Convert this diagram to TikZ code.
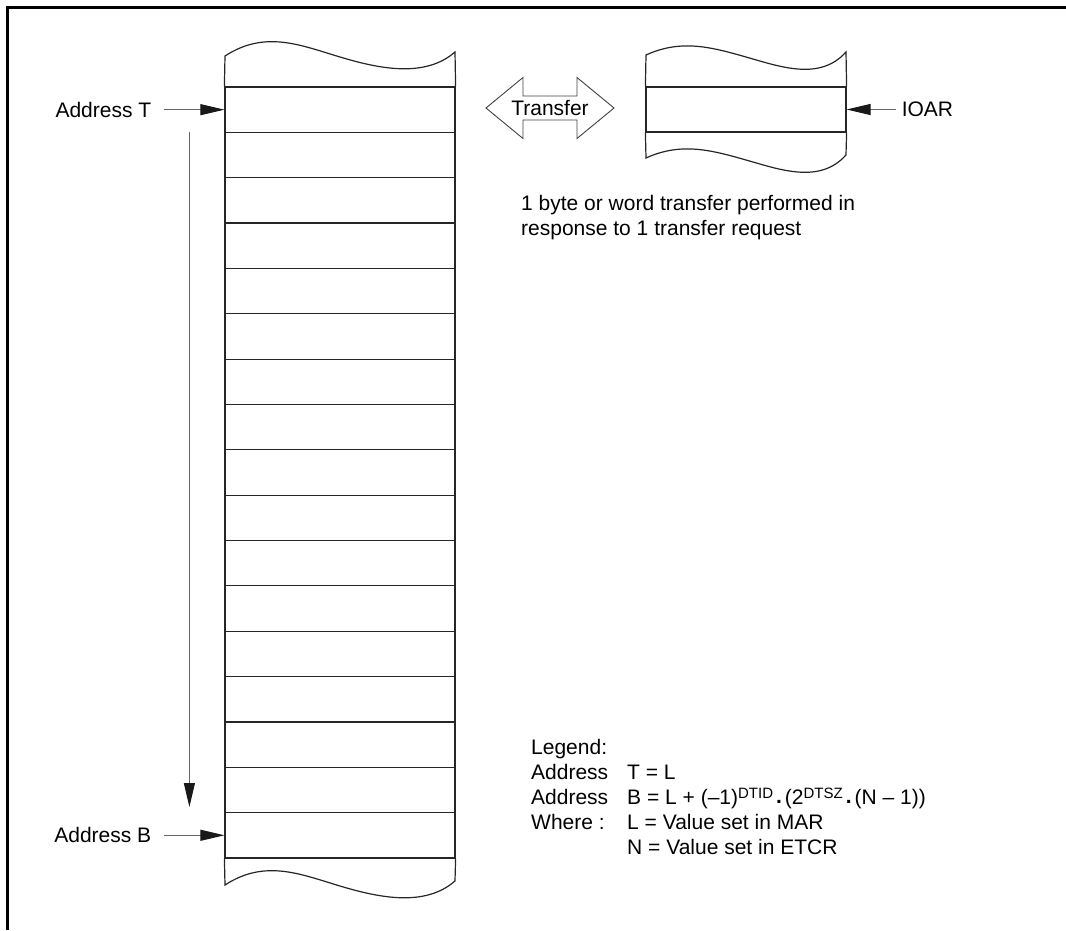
\documentclass[tikz,border=0pt]{standalone}
\usepackage{fontspec}
\setmainfont{Liberation Sans}
\usetikzlibrary{arrows.meta,positioning}

\newcommand{\mulmark}{\hspace{3pt}\raisebox{0.15ex}{\textbf{.}}\hspace{3pt}}
\newcommand{\expo}[1]{\raisebox{0.55ex}{\fontsize{15}{15}\selectfont #1}}

\begin{document}
\begin{tikzpicture}[
    x=1pt, y=-1pt,
    cell/.style={draw=black!85, line width=1.2pt, minimum width=230pt, minimum height=45.35pt, inner sep=0pt},
    reg/.style={cell, minimum width=200pt, minimum height=45pt},
    wire/.style={draw=black!85, line width=1.2pt},
    ptr/.style={-{Triangle[length=24pt, width=11pt, color=black!90]}, line width=1pt, draw=black!60},
    outline/.style={draw=black!75, line width=0.9pt},
    lbl/.style={font=\fontsize{21}{25}\selectfont, inner sep=0pt},
    frame/.style={line width=2.6pt}
]
\useasboundingbox (0,0) rectangle (1066,930);

% --- page frame (top and left edge only) ---
\draw[frame] (7.3,930) -- (7.3,7.3) -- (1066,7.3);

% --- memory column: 17 cells with torn ends ---
\foreach \i in {1,...,17}
    \node[cell] (m\i) at (340,{64.325+45.35*\i}) {};

\draw[wire] (m1.north west) -- (225,56) .. controls (265,30) and (300,45) .. (340,57)
    .. controls (380,69) and (425,78) .. (455,52) -- (m1.north east);
\draw[wire] (m17.south west) -- (225,885) .. controls (265,859) and (300,874) .. (340,886)
    .. controls (380,898) and (425,907) .. (455,881) -- (m17.south east);

% --- address pointers ---
\node[lbl, left=73pt of m1] (addrT) {Address T};
\node[lbl, left=73pt of m17] (addrB) {Address B};

\draw[ptr] ([xshift=13pt]addrT.east) -- (m1.west);
\draw[ptr] ([xshift=13pt]addrB.east) -- (m17.west);

% scan direction T -> B
\draw[ptr] ([xshift=-35pt]m2.north west) -- ([xshift=-35pt,yshift=5pt]m17.north west);

% --- I/O register ---
\node[reg] (ioreg) at (746,109.5) {};

\draw[wire] (ioreg.north west) -- (646,55) .. controls (681,39) and (711,47) .. (746,57)
    .. controls (781,67) and (820,81) .. (846,52) -- (ioreg.north east);
\draw[wire] (ioreg.south west) -- (646,158) .. controls (681,142) and (711,150) .. (746,160)
    .. controls (781,170) and (820,184) .. (846,155) -- (ioreg.south east);

\node[lbl, right=55pt of ioreg] (ioar) {IOAR};
\draw[ptr] ([xshift=-6pt]ioar.west) -- (ioreg.east);

% --- transfer arrow ---
\node[lbl] (xfer) at (550,108) {Transfer};
\draw[outline] (xfer.center) ++(-64,0) -- ++(37,-30.5) -- ++(0,18.5) -- ++(54,0)
    -- ++(0,-18.5) -- ++(37,30.5) -- ++(-37,30.5) -- ++(0,-18.5) -- ++(-54,0)
    -- ++(0,18.5) -- cycle;

\node[lbl, anchor=north west, align=left] (note) at (521,195.5)
    {1 byte or word transfer performed in\\response to 1 transfer request};

% --- legend ---
\node[lbl, anchor=north west] (legend) at (531,737) {%
    \begin{tabular}{@{}l@{\hspace{19pt}}l@{}}
    Legend: & \\
    Address & T = L\\
    Address & B = L + (--1)\expo{DTID}\mulmark(2\expo{DTSZ}\mulmark(N -- 1))\\
    Where : & L = Value set in MAR\\
            & N = Value set in ETCR
    \end{tabular}};

\end{tikzpicture}
\end{document}
